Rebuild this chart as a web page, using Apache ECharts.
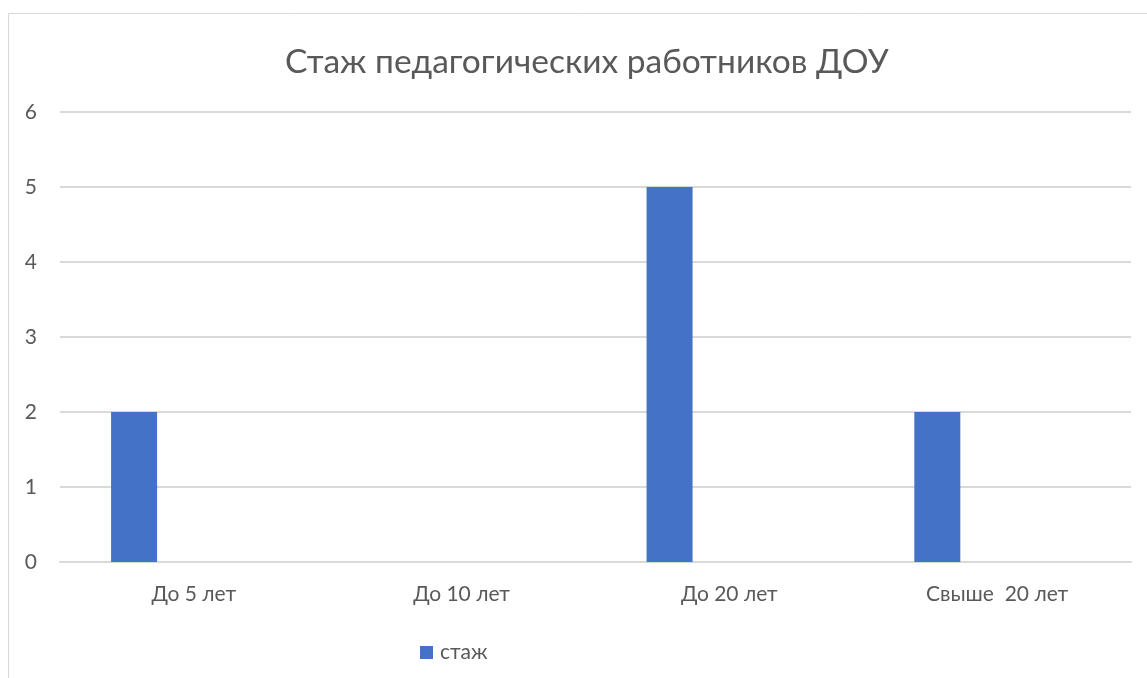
<!DOCTYPE html>
<html>
<head>
<meta charset="utf-8">
<title>Стаж педагогических работников ДОУ</title>
<script src="https://cdn.jsdelivr.net/npm/echarts@6/dist/echarts.min.js"></script>
<style>
    html, body { margin: 0; padding: 0; background: #fff; }
    #chart { width: 1147px; height: 678px; }
</style>
</head>
<body>
<div id="chart"></div>
<script>
// chart data
const TITLE = "Стаж педагогических работников ДОУ";
const categories = ["До 5 лет", "До 10 лет", "До 20 лет", "Свыше  20 лет"];
const seriesName = "стаж";
const stazh = [2, null, 5, 2];
// Excel left two empty series slots next to the bar
const emptySlot = [null, null, null, null];
const yTicks = [0, 1, 2, 3, 4, 5, 6];

const FONT = "Lato, 'Open Sans', sans-serif";
const TEXT_COLOR = "#595959";
const BAR_COLOR = "#4472C4";

const myChart = echarts.init(document.getElementById("chart"));

myChart.setOption({
    animation: false,
    backgroundColor: "#fff",
    textStyle: {fontFamily: FONT},
    graphic: [{
        type: "rect",
        shape: {x: 8.5, y: 13.5, width: 1200, height: 700},
        style: {fill: "none", stroke: "#d9d9d9", lineWidth: 1},
        silent: true
    }],
    title: {
        text: TITLE,
        left: 280,
        top: 40,
        textStyle: {fontFamily: FONT, fontSize: 33.5, fontWeight: "normal", color: TEXT_COLOR}
    },
    legend: {
        data: [seriesName],
        left: 415,
        top: 637,
        itemWidth: 13,
        itemHeight: 13,
        icon: "rect",
        textStyle: {fontFamily: FONT, fontSize: 21, color: TEXT_COLOR, padding: [0, 0, 0, 2]}
    },
    grid: {left: 60, right: 16, top: 112, bottom: 116, containLabel: false},
    xAxis: {
        type: "category",
        data: categories,
        axisLine: {show: true, lineStyle: {color: "#d9d9d9", width: 2}},
        axisTick: {show: false},
        axisLabel: {fontFamily: FONT, fontSize: 21, color: TEXT_COLOR, margin: 22}
    },
    yAxis: {
        type: "value",
        min: yTicks[0],
        max: yTicks[yTicks.length - 1],
        interval: 1,
        axisLine: {show: false},
        axisTick: {show: false},
        splitLine: {lineStyle: {color: "#d9d9d9", width: 2}},
        axisLabel: {fontFamily: FONT, fontSize: 21, color: TEXT_COLOR, margin: 23}
    },
    series: [
        {name: seriesName, type: "bar", data: stazh, barWidth: 46, barGap: "30%",
            itemStyle: {color: BAR_COLOR}},
        {name: "_b", type: "bar", data: emptySlot, barWidth: 46, barGap: "30%"},
        {name: "_c", type: "bar", data: emptySlot, barWidth: 46, barGap: "30%"}
    ]
});
</script>
</body>
</html>
